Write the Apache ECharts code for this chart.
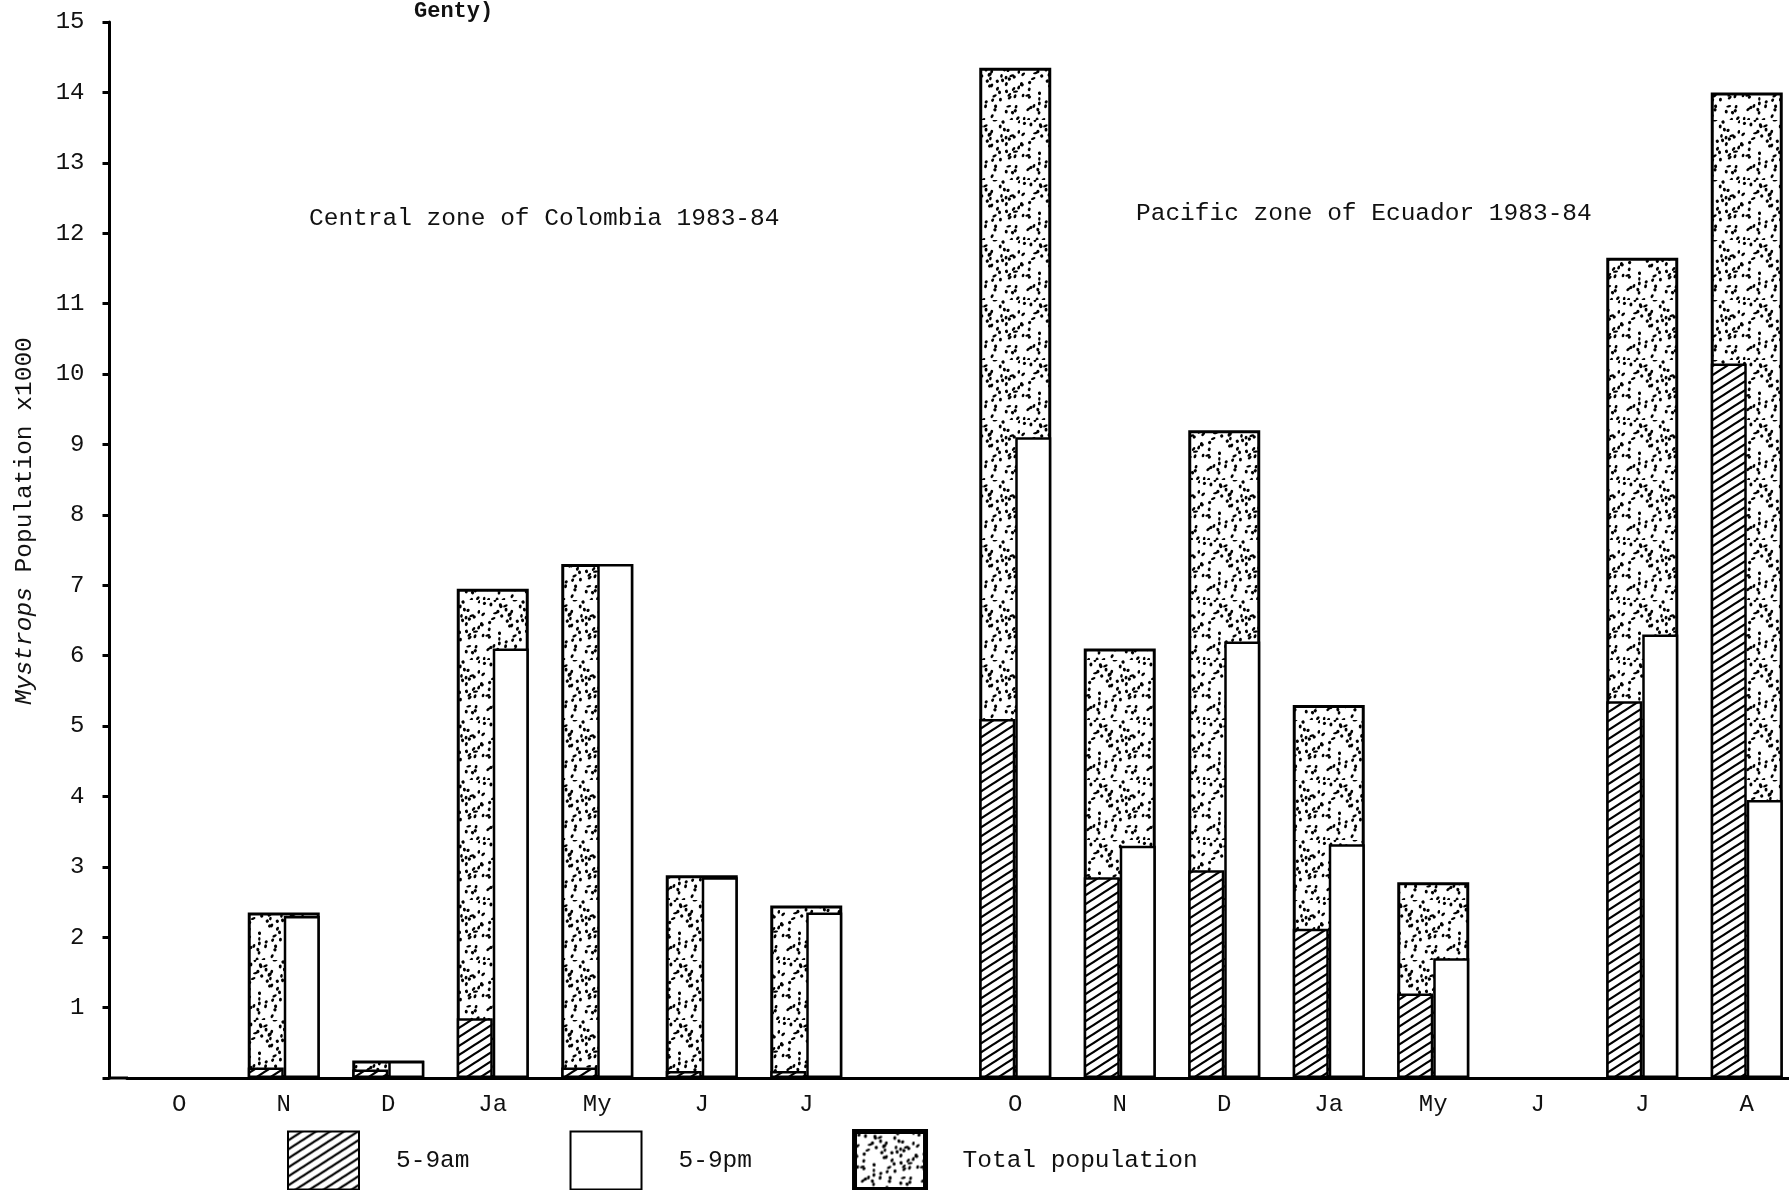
<!DOCTYPE html>
<html>
<head>
<meta charset="utf-8">
<script src="https://cdn.jsdelivr.net/npm/echarts@6/dist/echarts.min.js"></script>
<style>
  html, body { margin: 0; padding: 0; background: #fff; }
  #chart { width: 1789px; height: 1190px; }
</style>
</head>
<body>
<div id="chart"></div>
<script>
// Months sampled in each zone (blank slot separates Colombia from Ecuador)
const months = ['O', 'N', 'D', 'Ja', 'My', 'J', 'J', '', 'O', 'N', 'D', 'Ja', 'My', 'J', 'J', 'A'];
// Mystrops population x1000
const totalPopulation = [null, 2.35, 0.25, 6.95, 7.3, 2.88, 2.45, null, 14.35, 6.1, 9.2, 5.3, 2.78, null, 11.65, 14.0];
const morningCatch   = [null, 0.15, 0.12, 0.85, 0.15, 0.1, 0.1, null, 5.1, 2.85, 2.95, 2.12, 1.2, null, 5.35, 10.15];
const eveningCatch   = [null, 2.3, 0.24, 6.1, 7.3, 2.85, 2.35, null, 9.1, 3.3, 6.2, 3.32, 1.7, null, 6.3, 3.95];

const FONT = '"Liberation Mono", "DejaVu Sans Mono", monospace';
const INK = '#111';

// Diagonal hatching used for the 5-9am bars
function hatchTile() {
  const w = 14, h = 9;
  const c = document.createElement('canvas');
  c.width = w; c.height = h;
  const g = c.getContext('2d');
  g.fillStyle = '#fff';
  g.fillRect(0, 0, w, h);
  g.strokeStyle = '#000';
  g.lineWidth = 2.2;
  g.beginPath();
  for (let k = -1; k <= 1; k++) {
    g.moveTo(k * w - w * 0.2, h + h * 0.2);
    g.lineTo(k * w + w + w * 0.2, -h * 0.2);
  }
  g.stroke();
  return c;
}

// Fine stipple used for the total population bars
function stippleTile() {
  const size = 60, cell = 6;
  const c = document.createElement('canvas');
  c.width = size; c.height = size;
  const g = c.getContext('2d');
  g.fillStyle = '#fff';
  g.fillRect(0, 0, size, size);
  g.fillStyle = '#000';
  const hash = n => { const s = Math.sin(n * 12.9898 + 78.233) * 43758.5453; return s - Math.floor(s); };
  let n = 1;
  for (let y = 0; y < size; y += cell) {
    for (let x = 0; x < size; x += cell) {
      const a = hash(n++), b = hash(n++), d = hash(n++), e = hash(n++);
      if (d < 0.2) continue;
      const px = x + a * cell, py = y + b * cell;
      const rw = 1.2 + e * 1.4, rh = 1.1 + (1 - e) * 0.8;
      g.beginPath();
      g.ellipse(px % size, py % size, rw, rh, e * Math.PI, 0, Math.PI * 2);
      g.fill();
    }
  }
  return c;
}

const hatch = { image: hatchTile(), repeat: 'repeat' };
const stipple = { image: stippleTile(), repeat: 'repeat' };

const chart = echarts.init(document.getElementById('chart'), null, { renderer: 'canvas' });

const categoryAxis = {
  type: 'category',
  data: months,
  axisLine: { show: true, lineStyle: { color: '#000', width: 3 } },
  axisTick: { show: false },
  axisLabel: { color: INK, fontFamily: FONT, fontSize: 24, margin: 15, interval: 0 },
  splitLine: { show: false }
};

chart.setOption({
  backgroundColor: '#fff',
  animation: false,
  title: [
    { text: 'Genty)', left: 409, top: -5, textStyle: { fontFamily: FONT, fontSize: 22, fontWeight: 'bold', color: INK } },
    { text: 'Central zone of Colombia 1983-84', left: 304, top: 201, textStyle: { fontFamily: FONT, fontSize: 24.5, fontWeight: 'normal', color: INK } },
    { text: 'Pacific zone of Ecuador 1983-84', left: 1131, top: 196, textStyle: { fontFamily: FONT, fontSize: 24.5, fontWeight: 'normal', color: INK } }
  ],
  legend: {
    left: 282,
    top: 1124,
    itemWidth: 71,
    itemHeight: 58,
    itemGap: 100,
    icon: 'rect',
    selectedMode: false,
    textStyle: { fontFamily: FONT, fontSize: 24.5, color: INK, padding: [0, 0, 0, 32] },
    data: [
      { name: '5-9am' },
      { name: '5-9pm' },
      { name: 'Total population', itemStyle: { borderWidth: 5 } }
    ]
  },
  grid: { left: 127, width: 1672, top: 22, bottom: 112, outerBoundsMode: 'none', containLabel: false },
  xAxis: [
    categoryAxis,
    Object.assign({}, categoryAxis, { show: false })
  ],
  yAxis: {
    type: 'value',
    min: 0,
    max: 15,
    interval: 1,
    offset: 17.5,
    axisLine: { show: true, lineStyle: { color: '#000', width: 3 } },
    axisTick: { show: true, length: 7, lineStyle: { color: '#000', width: 3 } },
    axisLabel: {
      color: INK, fontFamily: FONT, fontSize: 24, margin: 25,
      formatter: v => (v === 0 ? '' : String(v))
    },
    splitLine: { show: false }
  },
  graphic: [
    // x axis continues left to meet the y axis
    { type: 'line', shape: { x1: 108, y1: 1078, x2: 128, y2: 1078 }, style: { stroke: '#000', lineWidth: 3 }, z: 10 },
    {
      type: 'text', x: 25, y: 521, rotation: Math.PI / 2,
      style: {
        text: '{i|Mystrops} Population x1000',
        align: 'center', verticalAlign: 'middle',
        font: '24.5px ' + FONT, fill: INK,
        rich: { i: { fontStyle: 'italic', fontFamily: FONT, fontSize: 24.5, fill: INK } }
      }
    }
  ],
  series: [
    {
      name: 'Total population',
      type: 'bar',
      xAxisIndex: 0,
      barWidth: 72,
      z: 2,
      data: totalPopulation,
      itemStyle: { color: stipple, borderColor: '#000', borderWidth: 3 }
    },
    {
      name: '5-9am',
      type: 'bar',
      xAxisIndex: 1,
      barWidth: 36,
      barGap: '0%',
      z: 3,
      data: morningCatch,
      itemStyle: { color: hatch, borderColor: '#000', borderWidth: 2.5 }
    },
    {
      name: '5-9pm',
      type: 'bar',
      xAxisIndex: 1,
      barWidth: 36,
      barGap: '0%',
      z: 3,
      data: eveningCatch,
      itemStyle: { color: '#fff', borderColor: '#000', borderWidth: 2.5 }
    }
  ]
});
</script>
</body>
</html>
